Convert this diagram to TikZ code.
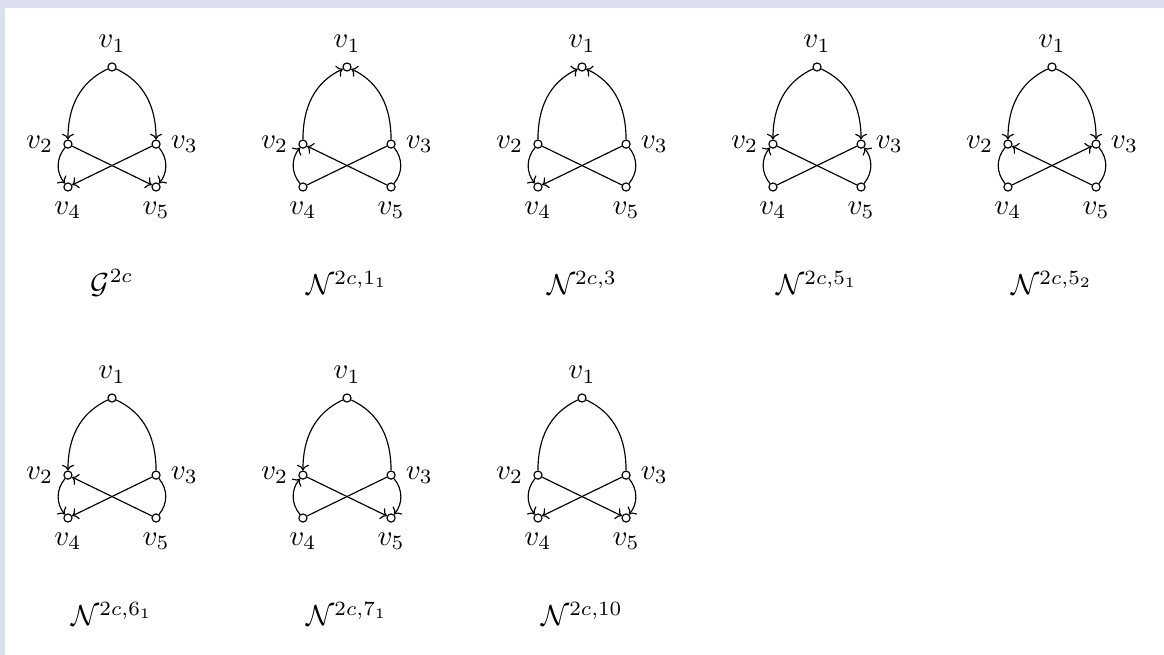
\documentclass[tikz,border=0pt]{standalone}
\usepackage{amsmath}
\usepackage{tikz}
\usetikzlibrary{arrows.meta, positioning}

\definecolor{bgframe}{HTML}{DCE0EE}

\tikzset{
  vertex/.style={draw, circle, inner sep=0pt, minimum size=2.8pt, fill=white},
}

\newcommand{\fivegraph}[9]{%
  \node[vertex, label=above:$v_1$] (#1v1) at #2 {};
  \node[vertex, label=left:$v_2$, below left=of #1v1] (#1v2) {};
  \node[vertex, label=right:$v_3$, below right=of #1v1] (#1v3) {};
  \node[vertex, label=below:$v_4$, below=14.8pt of #1v2] (#1v4) {};
  \node[vertex, label=below:$v_5$, below=14.8pt of #1v3] (#1v5) {};
  \node[below=74.5pt of #1v1] (#1cap) {#3};
  \draw[#4] (#1v1) to[out=-155, in=90] (#1v2);
  \draw[#5] (#1v1) to[out=-25, in=90] (#1v3);
  \draw[#6] (#1v2) to[bend right=40] (#1v4);
  \draw[#7] (#1v3) to[bend left=40] (#1v5);
  \draw[#8] (#1v2) -- (#1v5);
  \draw[#9] (#1v3) -- (#1v4);
}

\begin{document}
\begin{tikzpicture}[x=0.345pt, y=-0.345pt, node distance=26.6pt and 15.2pt, on grid, >={To[scale=0.8]}]
\fill[bgframe] (0,0) rectangle (1164,655);
\fill[white] (5,8) rectangle (1164,655);
\useasboundingbox (0,0) rectangle (1164,655);
\fivegraph{g}{(112,67)}{$\mathcal{G}^{2c}$}{->}{->}{->}{->}{->}{->}
\fivegraph{a}{(347,67)}{$\mathcal{N}^{2c,1_1}$}{<-}{<-}{<-}{-}{<-}{-}
\fivegraph{b}{(582,67)}{$\mathcal{N}^{2c,3}$}{<-}{<-}{->}{-}{-}{->}
\fivegraph{c}{(817,67)}{$\mathcal{N}^{2c,5_1}$}{->}{->}{<-}{<-}{-}{-}
\fivegraph{d}{(1052,67)}{$\mathcal{N}^{2c,5_2}$}{->}{->}{-}{-}{<-}{<-}
\fivegraph{e}{(112,398)}{$\mathcal{N}^{2c,6_1}$}{->}{-}{->}{-}{<-}{->}
\fivegraph{f}{(347,398)}{$\mathcal{N}^{2c,7_1}$}{->}{-}{<-}{->}{->}{-}
\fivegraph{h}{(582,398)}{$\mathcal{N}^{2c,10}$}{-}{-}{->}{->}{->}{->}
\end{tikzpicture}
\end{document}
